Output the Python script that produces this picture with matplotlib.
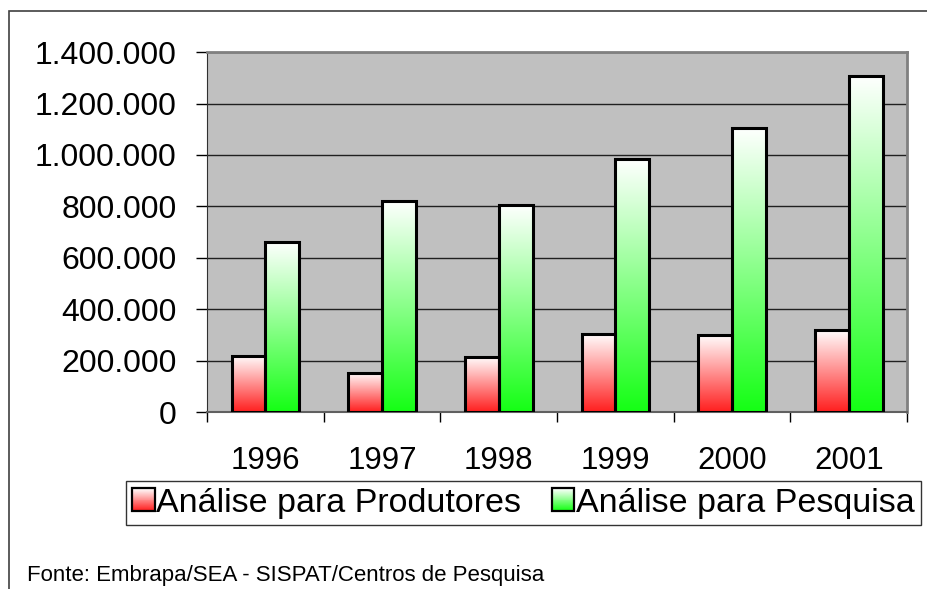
import numpy as np
import matplotlib
matplotlib.use("Agg")
import matplotlib.pyplot as plt
from matplotlib.colors import LinearSegmentedColormap
from matplotlib.legend_handler import HandlerPatch
from matplotlib.patches import Rectangle
from matplotlib.ticker import FuncFormatter, MultipleLocator

plt.rcParams["font.family"] = ["Liberation Sans", "DejaVu Sans"]

# dados
years = ["1996", "1997", "1998", "1999", "2000", "2001"]
produtores = [220000, 155000, 216000, 303000, 300000, 319000]
pesquisa = [662000, 822000, 804000, 983000, 1104000, 1308000]
series_names = ["Análise para Produtores", "Análise para Pesquisa"]
source_text = "Fonte: Embrapa/SEA - SISPAT/Centros de Pesquisa"

RED = (1.0, 0.12, 0.12)
GREEN = (0.08, 1.0, 0.08)
BAR_W = 0.29


def make_cmap(color):
    return LinearSegmentedColormap.from_list("g", [color, (1, 1, 1)])


class GradientHandler(HandlerPatch):
    # quadrado da legenda com gradiente
    def __init__(self, color, n=24, **kw):
        super().__init__(**kw)
        self.color = np.array(color)
        self.n = n

    def create_artists(self, legend, orig_handle, xdescent, ydescent,
                       width, height, fontsize, trans):
        size = min(width, height)
        x0 = -xdescent + (width - size)
        y0 = -ydescent + (height - size) / 2
        artists = []
        for k in range(self.n):
            t = k / (self.n - 1)
            c = self.color * (1 - t) + np.ones(3) * t
            artists.append(Rectangle((x0, y0 + size * k / self.n), size, size / self.n,
                                     facecolor=c, edgecolor="none", transform=trans))
        artists.append(Rectangle((x0, y0), size, size, facecolor="none",
                                 edgecolor="black", linewidth=1.6, transform=trans))
        return artists


fig = plt.figure(figsize=(9.28, 5.89), dpi=100)
ax = fig.add_axes([0.2231, 0.2997, 0.7543, 0.612])
ax.set_facecolor("#C0C0C0")

x = np.arange(len(years)) + 0.5
bars_r = ax.bar(x - BAR_W / 2, produtores, BAR_W, facecolor="none",
                edgecolor="black", linewidth=2.2, zorder=4)
bars_g = ax.bar(x + BAR_W / 2, pesquisa, BAR_W, facecolor="none",
                edgecolor="black", linewidth=2.2, zorder=4)

grad = np.linspace(0, 1, 256).reshape(-1, 1)
for bars, color in [(bars_r, RED), (bars_g, GREEN)]:
    cmap = make_cmap(color)
    for b in bars:
        ax.imshow(grad, extent=[b.get_x(), b.get_x() + b.get_width(), 0, b.get_height()],
                  origin="lower", aspect="auto", cmap=cmap, zorder=3)

ax.set_xlim(0, len(years))
ax.set_ylim(0, 1400000)

ax.yaxis.set_major_locator(MultipleLocator(200000))
ax.yaxis.set_major_formatter(FuncFormatter(lambda v, p: f"{int(v):,}".replace(",", ".")))
ax.grid(axis="y", color="#202020", linewidth=1.0, zorder=1)
ax.set_axisbelow(True)

ax.set_xticks(x)
ax.set_xticklabels(years)
ax.set_xticks(np.arange(len(years) + 1), minor=True)
ax.tick_params(axis="x", which="major", length=0, pad=24, labelsize=22.5)
ax.tick_params(axis="x", which="minor", length=7, width=1, direction="out")
ax.tick_params(axis="y", length=8, width=1, direction="out", pad=14, labelsize=23)

for side in ["top", "right"]:
    ax.spines[side].set_color("#808080")
    ax.spines[side].set_linewidth(2)
ax.spines["left"].set_color("#303030")
ax.spines["bottom"].set_color("#606060")
ax.spines["bottom"].set_linewidth(1.5)

h1 = Rectangle((0, 0), 1, 1)
h2 = Rectangle((0, 0), 1, 1)
leg = fig.legend([h1, h2], series_names, loc="center", bbox_to_anchor=(0.564, 0.146),
                 ncol=2, fontsize=24.5, frameon=True, fancybox=False,
                 handler_map={h1: GradientHandler(RED), h2: GradientHandler(GREEN)},
                 handlelength=0.65, handleheight=0.65, handletextpad=0.05,
                 columnspacing=0.9, borderpad=0.2, borderaxespad=0)
leg.get_frame().set_edgecolor("black")
leg.get_frame().set_linewidth(1.0)

fig.text(0.029, 0.0136, source_text, fontsize=16, va="baseline", ha="left")

# moldura externa do grafico
fig.patches.append(Rectangle((9 / 928, -0.1), 1.2, 1.1 - 11 / 589, transform=fig.transFigure,
                             facecolor="none", edgecolor="#404040", linewidth=1.2))

fig.savefig("out.png", dpi=100)
